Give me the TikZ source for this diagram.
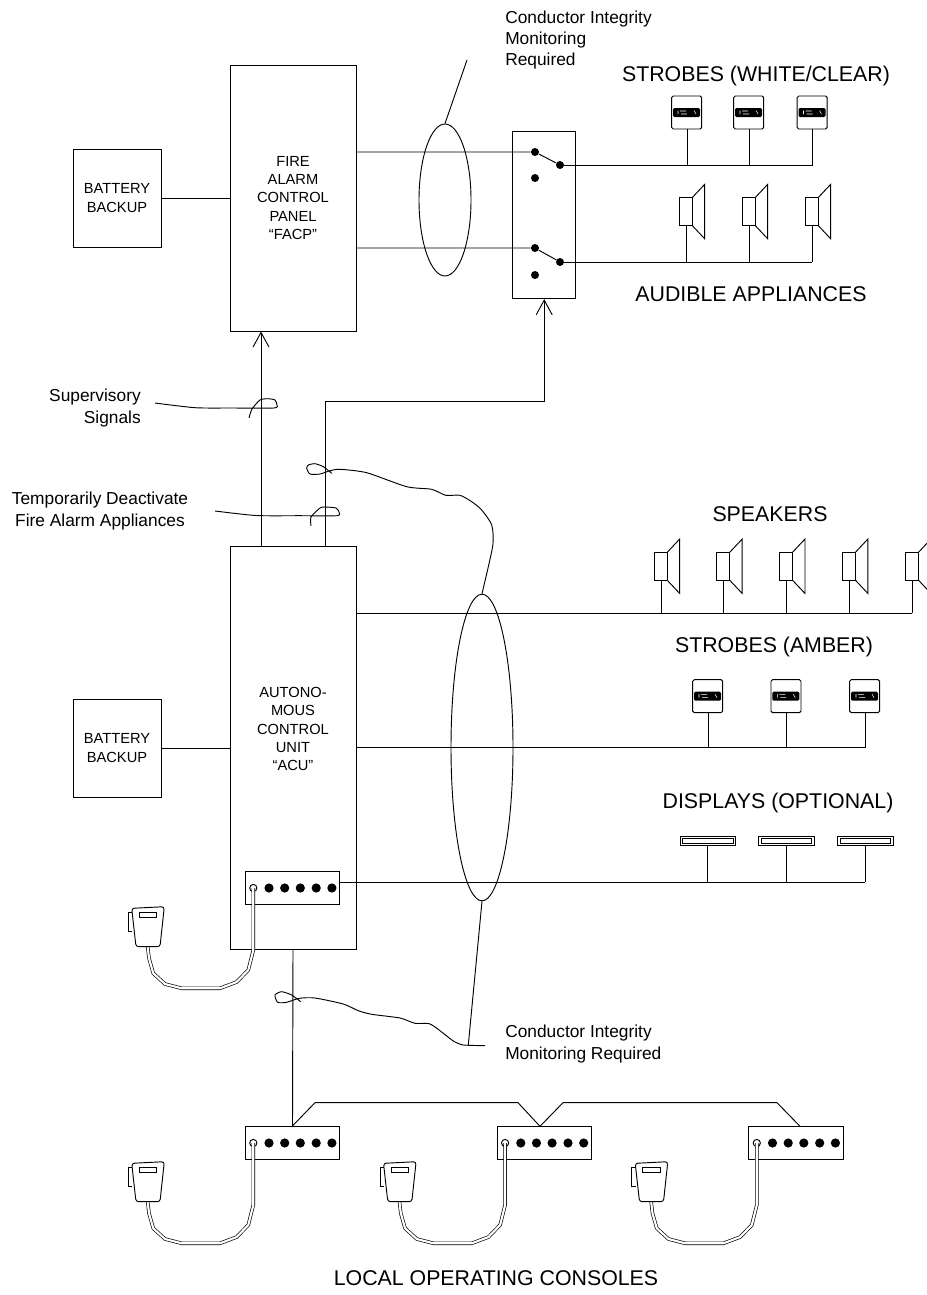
\documentclass[tikz,border=0pt]{standalone}
\usepackage{fontspec}
\setmainfont{Liberation Sans}
\usetikzlibrary{arrows.meta, shapes.geometric}

\begin{document}
\begin{tikzpicture}[
  x=0.75pt, y=-0.75pt,
  wire/.style={line width=0.7pt, color=black},
  feed/.style={wire, -{Straight Barb[length=11pt, width=12pt]}},
  unitbox/.style={draw, line width=0.7pt, rectangle, inner sep=0pt, align=center, font=\fontsize{11}{13.6}\selectfont},
  oval/.style={draw, line width=0.7pt, ellipse, inner sep=0pt},
  dot/.style={circle, fill=black, minimum size=6pt, inner sep=0pt},
  tag/.style={font=\fontsize{13}{15.8}\selectfont, inner sep=0pt},
  headline/.style={font=\fontsize{16}{19}\selectfont, inner sep=0pt},
  strobe/.pic={
    \draw[wire, rounded corners=1.2pt] (-15.3,0) rectangle (14.7,33);
    \fill[rounded corners=1pt] (-14,12) rectangle (13,21);
    \draw[white, line width=0.4pt] (-9,14.5) -- (-9,18) (-7,15) -- (-1,15) (-6,18) -- (0,18) (7,14.5) -- (9,18);
    \coordinate (-tap) at (0,33);
  },
  speaker/.pic={
    \draw[wire] (-7,-27.5) rectangle (6,0);
    \draw[wire] (6,-27.5) -- (18.7,-41) -- (18.7,13.5) -- (6,0);
    \coordinate (-tap) at (0,0);
  },
  display/.pic={
    \draw[wire] (-27.5,-8.3) rectangle (28,0);
    \draw[wire] (-25,-6.3) rectangle (25.5,-2);
    \coordinate (-tap) at (0,0);
  },
  console/.pic={
    \node[unitbox, minimum width=70.8pt, minimum height=25pt] (-box) at (0,0) {};
    \foreach \xx in {-23.5,-7.8,7.8,23.7,39.4} \fill (\xx,0) circle (4.6);
    \draw[wire, fill=white] (-39.2,0) circle (3.6);
    \draw[line width=0.5pt, double=white, double distance=1.6pt, line join=round]
      (-39.2,0) -- (-39.2,62) -- (-44.2,82) -- (-55.8,94) -- (-72.5,100.3)
      -- (-110.8,100.3) -- (-127.5,96) -- (-139.2,85.3) -- (-143.5,70.3) -- (-144.8,59);
    \draw[wire, fill=white, rounded corners=2pt] (-160.8,20.3) -- (-128.2,18.7) -- (-132.5,58.7) -- (-156.5,58.7) -- cycle;
    \draw[wire] (-160.8,24.3) -- (-164.2,24.3) -- (-164.2,43.7) -- (-160.5,43.7);
    \draw[wire] (-153.2,24.3) rectangle (-135.8,29.7);
  },
]
  \useasboundingbox (0,0) rectangle (927,1295);

  % FACP section
  \node[unitbox, minimum width=94.5pt, minimum height=199.5pt] (facp) at (293,198) {FIRE\\ALARM\\CONTROL\\PANEL\\“FACP”};
  \node[unitbox, minimum width=66pt, minimum height=73.5pt] (batt1) at (117,198) {BATTERY\\BACKUP};
  \draw[wire] (batt1) -- (facp);

  % Switch box
  \node[unitbox, minimum width=47.25pt, minimum height=125.25pt] (swbox) at (544.2,215.2) {};
  \node[dot] (sw1a) at (535,152) {};
  \node[dot] (sw1b) at (560,165) {};
  \node[dot] (sw1c) at (535,178) {};
  \node[dot] (sw2a) at (535,248) {};
  \node[dot] (sw2b) at (560,262) {};
  \node[dot] (sw2c) at (535,275) {};
  \draw[wire] (facp.east |- sw1a) -- (sw1a) -- (sw1b);
  \draw[wire] (facp.east |- sw2a) -- (sw2a) -- (sw2b);
  \node[oval, minimum width=39pt, minimum height=114pt] (loop1) at (445,200) {};
  \coordinate (loop1end) at (467,60);
  \draw[wire] (loop1.north) -- (loop1end);
  \node[tag, anchor=west, align=left] (loop1tag) at (505,40) {Conductor Integrity\\Monitoring\\Required};

  % White strobes and audible appliances
  \node[headline] (strobewhite) at (756,76) {STROBES (WHITE/CLEAR)};
  \coordinate (strobewhiteend) at (812.5,165);
  \draw[wire] (sw1b) -- (strobewhiteend);
  \foreach \n/\xx in {1/687, 2/749, 3/812.5} {
    \pic (sw\n) at (\xx,96) {strobe};
    \draw[wire] (sw\n-tap) -- (sw\n-tap |- strobewhiteend);
  }
  \coordinate (audibleend) at (812,262);
  \draw[wire] (sw2b) -- (audibleend);
  \foreach \n/\xx in {1/686, 2/749, 3/812} {
    \pic (au\n) at (\xx,225.3) {speaker};
    \draw[wire] (au\n-tap) -- (au\n-tap |- audibleend);
  }
  \node[headline] (audible) at (751,294) {AUDIBLE APPLIANCES};

  % ACU section
  \node[unitbox, minimum width=94.5pt, minimum height=302.25pt] (acu) at (293,747.5) {};
  \node[unitbox, draw=none] (acutext) at (293,729) {AUTONO-\\MOUS\\CONTROL\\UNIT\\“ACU”};
  \node[unitbox, minimum width=66pt, minimum height=73.5pt] (batt2) at (117,748) {BATTERY\\BACKUP};
  \draw[wire] (batt2) -- (batt2 -| acu.west);

  % Feeds up to FACP and switch box
  \coordinate (feed1) at (261,546);
  \coordinate (feed2) at (325,546);
  \coordinate (turn) at (544.2,401);
  \draw[feed] (feed1) -- (feed1 |- facp.south);
  \draw[feed] (feed2) |- (turn) -- (swbox.south);

  % Signal tags
  \node[tag, anchor=east, align=right] (suptag) at (141,408) {Supervisory\\Signals};
  \draw[wire] plot[smooth, tension=0.4] coordinates {(155,403) (195,407.7) (232,408) (274,408) (277,405) (275,400) (268,398.7) (260,400) (252,409) (249,418)};
  \node[tag, align=center] (deacttag) at (100,511) {Temporarily Deactivate\\Fire Alarm Appliances};
  \draw[wire] plot[smooth, tension=0.4] coordinates {(215,511) (256,515.5) (300,515.7) (337,515.7) (339,512) (336,508) (325,507) (320,508) (311,517) (311,526)};

  % ACU buses
  \coordinate (speakerend) at (912.3,613.3);
  \draw[wire] (acu.east |- speakerend) -- (speakerend);
  \node[headline] (speakers) at (770,514) {SPEAKERS};
  \foreach \n/\xx in {1/661, 2/723.5, 3/786.3, 4/849.2, 5/912.3} {
    \pic (sp\n) at (\xx,580) {speaker};
    \draw[wire] (sp\n-tap) -- (sp\n-tap |- speakerend);
  }
  \node[headline] (amber) at (774,647) {STROBES (AMBER)};
  \coordinate (amberend) at (865,747.7);
  \draw[wire] (acu.east |- amberend) -- (amberend);
  \foreach \n/\xx in {1/708, 2/786.3, 3/865} {
    \pic (am\n) at (\xx,679.7) {strobe};
    \draw[wire] (am\n-tap) -- (am\n-tap |- amberend);
  }
  \node[headline] (displays) at (778,803) {DISPLAYS (OPTIONAL)};

  % Consoles
  \pic (acucon) at (292.5,888) {console};
  \coordinate (displayend) at (865,882);
  \draw[wire] (acucon-box.east |- displayend) -- (displayend);
  \foreach \n/\xx in {1/707.5, 2/786, 3/865} {
    \pic (di\n) at (\xx,845) {display};
    \draw[wire] (di\n-tap) -- (di\n-tap |- displayend);
  }
  \pic (con1) at (292.5,1143) {console};
  \pic (con2) at (544.3,1143) {console};
  \pic (con3) at (796,1143) {console};
  \coordinate (zig1) at (315,1102.7);
  \coordinate (zig2) at (518,1102.7);
  \coordinate (vee) at (540,1126.3);
  \coordinate (zig3) at (563,1102.7);
  \coordinate (zig4) at (777,1102.7);
  \coordinate (zigend) at (800,1126.3);
  \draw[wire] (acu.south) -- (con1-box.north);
  \draw[wire] (con1-box.north) -- (zig1) -- (zig2) -- (vee) -- (zig3) -- (zig4) -- (zigend);
  \node[headline] (localtag) at (496,1278) {LOCAL OPERATING CONSOLES};

  % Big loop and its leaders
  \node[oval, minimum width=46.5pt, minimum height=230pt] (loop2) at (482,747.5) {};
  \draw[wire] plot[smooth, tension=0.4] coordinates {(loop2.north) (492.7,546) (491.7,525) (481.7,510) (471.7,501.7) (460,495.3) (445.7,495.3) (431.7,489.3) (406.7,486.7) (366.7,472.7) (340,469.3) (330,470.7) (320,474) (310,474) (306.7,468.3) (308.3,465) (315,463.7) (323.3,466.7) (331.7,473.3)};
  \coordinate (loop2end) at (485,1045.7);
  \coordinate (loop2low) at (468.3,1045);
  \draw[wire] (loop2.south) -- (loop2low);
  \draw[wire] plot[smooth, tension=0.4] coordinates {(loop2end) (468.3,1045.3) (461.7,1044.7) (453.3,1041) (440,1030.7) (429.3,1023.7) (415,1023.3) (400,1018) (371.7,1014.3) (358.3,1010.7) (343.3,1004) (315,998) (299.3,998.3) (286.7,1002.3) (277.7,1002.3) (275,995) (281.7,991.7) (291.7,995) (300.7,1001.7)};
  \node[tag, anchor=west, align=left] (loop2tag) at (505,1044) {Conductor Integrity\\Monitoring Required};
\end{tikzpicture}
\end{document}
